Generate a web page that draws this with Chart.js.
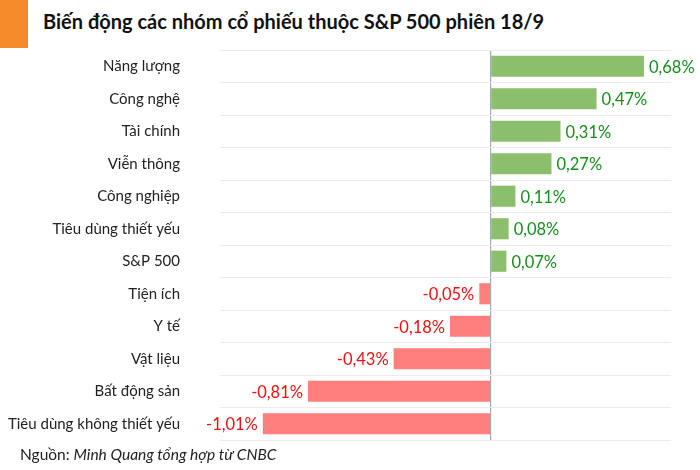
<!DOCTYPE html>
<html>
<head>
<meta charset="utf-8">
<script src="https://cdn.jsdelivr.net/npm/chart.js@4"></script>
<style>
    html, body { margin: 0; padding: 0; background: #fff; }
    #wrap { position: relative; width: 700px; height: 470px; font-family: Lato, sans-serif; }
    #mark { position: absolute; left: 0; top: 0; width: 28px; height: 48px; background: #f58a2a; }
    #title { position: absolute; left: 43px; top: 9px; font-size: 20px; font-weight: bold; color: #111; white-space: nowrap; }
    #source { position: absolute; left: 20px; top: 445px; font-size: 15.5px; color: #222; white-space: nowrap; }
    #chartBox { position: absolute; left: 0; top: 0; width: 700px; height: 470px; }
</style>
</head>
<body>
<div id="wrap">
    <div id="mark"></div>
    <div id="title">Biến động các nhóm cổ phiếu thuộc S&amp;P 500 phiên 18/9</div>
    <div id="chartBox"><canvas id="sectorChart" width="700" height="470"></canvas></div>
    <div id="source">Nguồn: <i>Minh Quang tổng hợp từ CNBC</i></div>
</div>
<script>
const categories = ["Năng lượng", "Công nghệ", "Tài chính", "Viễn thông", "Công nghiệp", "Tiêu dùng thiết yếu",
    "S&P 500", "Tiện ích", "Y tế", "Vật liệu", "Bất động sản", "Tiêu dùng không thiết yếu"];
const changes = [0.68, 0.47, 0.31, 0.27, 0.11, 0.08, 0.07, -0.05, -0.18, -0.43, -0.81, -1.01];

const upColor = "#8cbf6c";
const downColor = "#ff7f7f";

// value text next to each bar
const valueLabels = {
    id: "valueLabels",
    afterDatasetsDraw(chart) {
        const ctx = chart.ctx;
        const meta = chart.getDatasetMeta(0);
        ctx.save();
        ctx.font = "16.5px Lato, sans-serif";
        ctx.textBaseline = "middle";
        meta.data.forEach((bar, i) => {
            const v = changes[i];
            const text = v.toFixed(2).replace(".", ",") + "%";
            if (v >= 0) {
                ctx.fillStyle = "#14901a";
                ctx.textAlign = "left";
                ctx.fillText(text, bar.x + 5, bar.y + 1);
            } else {
                ctx.fillStyle = "#f01010";
                ctx.textAlign = "right";
                ctx.fillText(text, bar.x - 5, bar.y + 1);
            }
        });
        ctx.restore();
    }
};

new Chart(document.getElementById("sectorChart"), {
    type: "bar",
    data: {
        labels: categories,
        datasets: [{
            data: changes,
            backgroundColor: changes.map(v => v >= 0 ? upColor : downColor),
            barPercentage: 0.65,
            categoryPercentage: 1
        }]
    },
    options: {
        indexAxis: "y",
        responsive: false,
        animation: false,
        layout: { padding: { top: 50, bottom: 30, right: 29, left: 0 } },
        plugins: { legend: { display: false }, tooltip: { enabled: false } },
        scales: {
            x: {
                min: -1.2,
                max: 0.8,
                afterFit: s => { s.height = 0; },
                ticks: { display: false, stepSize: 0.2 },
                border: { display: false },
                grid: {
                    drawTicks: false,
                    color: c => Math.abs(c.tick.value) < 1e-9 ? "#a3abb8" : "transparent",
                    lineWidth: 1.2
                }
            },
            y: {
                afterFit: s => { s.width = 220; s.paddingTop = 0; s.paddingBottom = 0; },
                border: { display: false },
                grid: { offset: true, drawTicks: false, color: "#ebebeb" },
                ticks: { padding: 40, color: "#222", font: { family: "Lato", size: 15 } }
            }
        }
    },
    plugins: [valueLabels]
});
</script>
</body>
</html>
